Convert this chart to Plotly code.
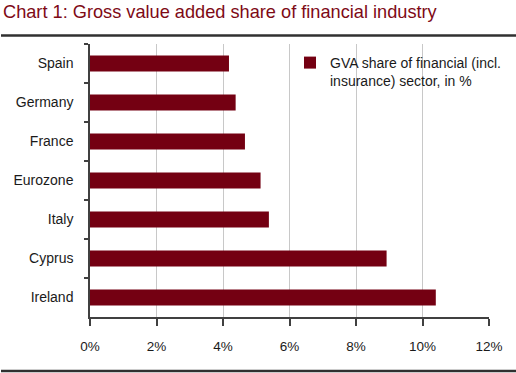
import plotly.graph_objects as go

countries = ["Spain", "Germany", "France", "Eurozone", "Italy", "Cyprus", "Ireland"]
gva_share = [4.18, 4.38, 4.66, 5.13, 5.38, 8.92, 10.40]
x_ticks = [0, 2, 4, 6, 8, 10, 12]
x_tick_labels = ["0%", "2%", "4%", "6%", "8%", "10%", "12%"]
series_name = "GVA share of financial (incl.<br>insurance) sector, in %"
title_text = "Chart 1: Gross value added share of financial industry"

W, H = 516, 373
ML, MR, MT, MB = 90, 0, 44, 56
AXIS_RIGHT = 489
PW, PH = W - ML - MR, H - MT - MB

def px_x(p):
    return (p - ML) / PW

def px_y(p):
    return (H - MB - p) / PH

FONT = "Liberation Sans, Arial, sans-serif"
BAR = "#740012"

fig = go.Figure()
fig.add_trace(go.Bar(
    y=countries, x=gva_share, orientation="h",
    marker=dict(color=BAR, line=dict(width=0)),
    name=series_name, showlegend=True,
))

fig.update_layout(
    width=W, height=H,
    margin=dict(l=ML, r=MR, t=MT, b=MB, pad=0, autoexpand=False),
    paper_bgcolor="white", plot_bgcolor="white",
    bargap=0.59,
    font=dict(family=FONT, size=14, color="#1a1a1a"),
    showlegend=True,
    legend=dict(
        x=px_x(290), y=px_y(47), xanchor="left", yanchor="top",
        bgcolor="rgba(0,0,0,0)", borderwidth=0,
        font=dict(family=FONT, size=14, color="#1a1a1a"),
        valign="top", itemclick=False,
    ),
    xaxis=dict(
        domain=[0, px_x(AXIS_RIGHT)],
        range=[0, 12], tickvals=x_ticks, ticktext=x_tick_labels,
        showgrid=True, gridcolor="#c8c8c8", gridwidth=1,
        showline=True, linecolor="#404040", linewidth=1.5,
        ticks="outside", ticklen=7, tickcolor="#404040", tickwidth=1.5,
        ticklabelstandoff=9, zeroline=False, fixedrange=True,
        tickfont=dict(size=13.5), automargin=False,
    ),
    yaxis=dict(
        autorange="reversed", type="category",
        showgrid=False, showline=True, linecolor="#404040", linewidth=1.5,
        ticks="outside", ticklen=4, tickcolor="#404040", tickwidth=1.5,
        tickson="boundaries", ticklabelstandoff=12, fixedrange=True,
        tickfont=dict(size=14), automargin=False,
    ),
    shapes=[
        dict(type="rect", xref="paper", yref="paper", layer="between",
             x0=px_x(298), x1=px_x(505), y0=px_y(101), y1=px_y(43),
             fillcolor="white", line=dict(width=0)),
        dict(type="line", xref="paper", yref="paper",
             x0=px_x(1), x1=px_x(516), y0=px_y(35.5), y1=px_y(35.5),
             line=dict(color="#303030", width=2.5)),
        dict(type="line", xref="paper", yref="paper",
             x0=px_x(1), x1=px_x(516), y0=px_y(371), y1=px_y(371),
             line=dict(color="#303030", width=2.5)),
    ],
    annotations=[
        dict(text=title_text, xref="paper", yref="paper",
             x=px_x(1), y=px_y(0), xanchor="left", yanchor="top",
             showarrow=False,
             font=dict(family=FONT, size=18.2, color="#7e0a16")),
    ],
)

fig.write_html("out.html", config={"displayModeBar": False},
               post_script="document.body.style.margin='0';")
